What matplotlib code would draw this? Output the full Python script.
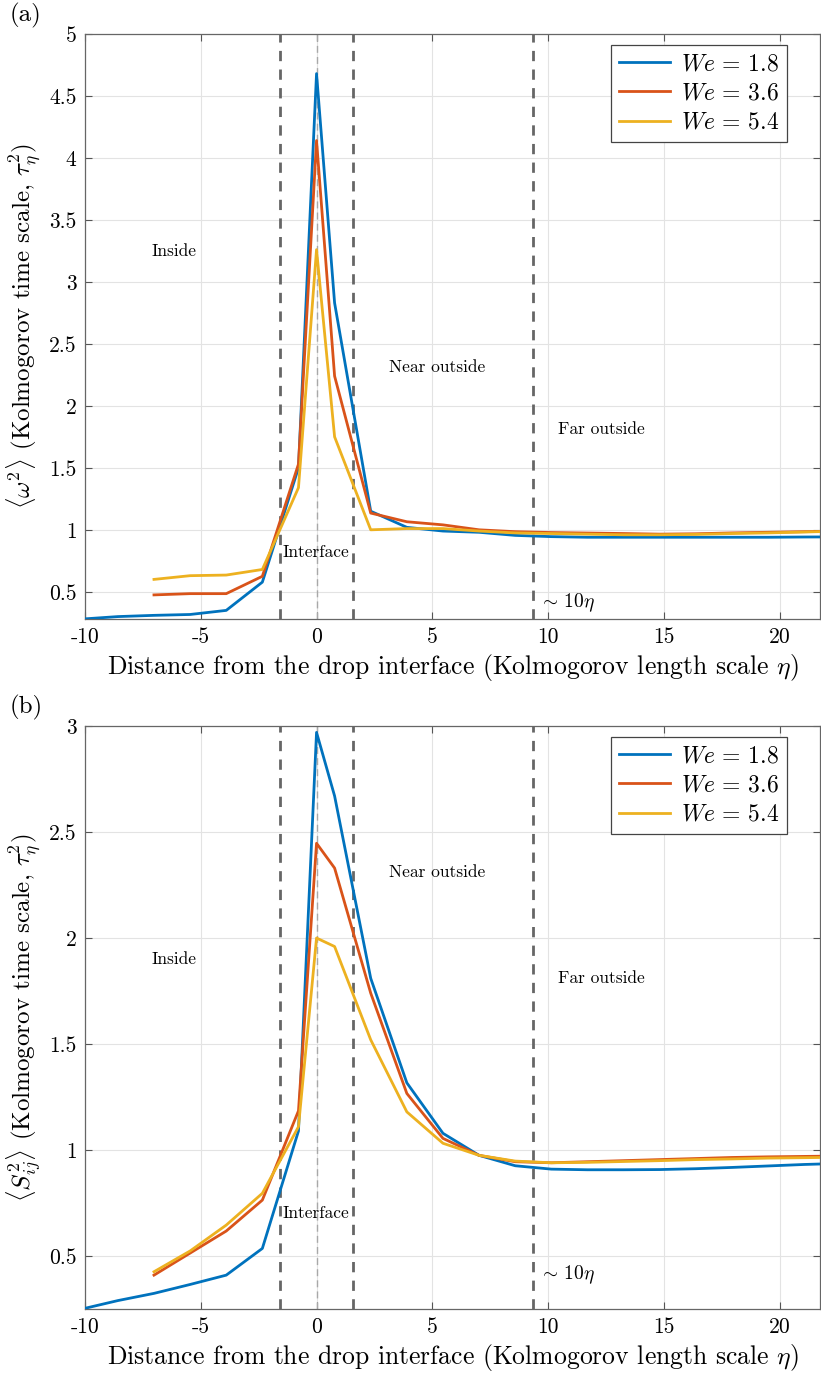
import numpy as np
import matplotlib
matplotlib.use("Agg")
import matplotlib.pyplot as plt
from matplotlib.ticker import FormatStrFormatter, MultipleLocator

plt.rcParams["font.family"] = "serif"
plt.rcParams["font.serif"] = ["cmr10"]
plt.rcParams["mathtext.fontset"] = "cm"
plt.rcParams["axes.unicode_minus"] = False
plt.rcParams["axes.formatter.use_mathtext"] = True

# ---- sample positions (in eta) ----
x_blue = [-10.14, -8.58, -7.02, -5.46, -3.90, -2.34, -0.78, 0.0, 0.78, 2.34, 3.90,
          5.46, 7.02, 8.58, 10.14, 11.70, 13.26, 14.82, 16.38, 17.94, 19.50, 21.06, 22.62]
x_rest = x_blue[2:]

labels = [r"$We\,=\,1.8$", r"$We\,=\,3.6$", r"$We\,=\,5.4$"]
colors = ["#0072BD", "#D95319", "#EDB120"]

# ---- <omega^2> ----
w_18 = [0.28, 0.30, 0.31, 0.317, 0.35, 0.578, 1.50, 4.68, 2.83, 1.15, 1.02,
        0.99, 0.98, 0.955, 0.945, 0.94, 0.94, 0.94, 0.94, 0.94, 0.94, 0.942, 0.943]
w_36 = [0.475, 0.485, 0.485, 0.625, 1.53, 4.14, 2.24, 1.135, 1.065,
        1.04, 1.0, 0.985, 0.978, 0.974, 0.97, 0.965, 0.968, 0.975, 0.98, 0.985, 0.99]
w_54 = [0.60, 0.63, 0.635, 0.68, 1.34, 3.26, 1.75, 1.0, 1.01,
        1.01, 0.99, 0.975, 0.97, 0.965, 0.96, 0.96, 0.963, 0.97, 0.975, 0.982, 0.99]

# ---- <S_ij^2> ----
s_18 = [0.25, 0.29, 0.324, 0.366, 0.41, 0.536, 1.09, 2.97, 2.67, 1.81, 1.317,
        1.079, 0.975, 0.926, 0.91, 0.907, 0.907, 0.908, 0.912, 0.918, 0.925, 0.932, 0.937]
s_36 = [0.41, 0.514, 0.618, 0.764, 1.185, 2.447, 2.33, 1.74, 1.267,
        1.055, 0.975, 0.945, 0.94, 0.945, 0.95, 0.955, 0.96, 0.965, 0.968, 0.97, 0.972]
s_54 = [0.426, 0.524, 0.646, 0.796, 1.11, 2.0, 1.96, 1.52, 1.18,
        1.032, 0.975, 0.948, 0.94, 0.942, 0.946, 0.95, 0.955, 0.958, 0.962, 0.964, 0.966]

# region boundaries
x_interface = [-1.56, 1.56]
x_far = 9.36

panels = [
    dict(tag="(a)", data=[(x_blue, w_18), (x_rest, w_36), (x_rest, w_54)],
         ylim=(0.28, 5.0), ylab=r"$\langle\omega^2\rangle$ (Kolmogorov time scale, $\tau_\eta^2$)",
         inside_y=3.25, iface_y=0.82, rect=[0.1035, 0.5514, 0.8955, 0.424]),
    dict(tag="(b)", data=[(x_blue, s_18), (x_rest, s_36), (x_rest, s_54)],
         ylim=(0.25, 3.0), ylab=r"$\langle S_{ij}^2\rangle$ (Kolmogorov time scale, $\tau_\eta^2$)",
         inside_y=1.9, iface_y=0.70, rect=[0.1035, 0.0514, 0.8955, 0.4225]),
]

fig = plt.figure(figsize=(8.21, 13.8), dpi=100)
fig.patch.set_facecolor("white")

for p in panels:
    ax = fig.add_axes(p["rect"])
    for (xx, yy), c, lab in zip(p["data"], colors, labels):
        ax.plot(xx, yy, color=c, lw=2.0, label=lab, zorder=3)

    # region markers
    for xv in x_interface + [x_far]:
        ax.axvline(xv, color="#666666", lw=2.0, ls=(0, (3.7, 3.0)), zorder=2)
    ax.axvline(0, color="#a8a8a8", lw=1.0, ls=(0, (5, 3)), zorder=2)

    ax.set_xlim(-10, 21.75)
    ax.set_ylim(*p["ylim"])
    ax.xaxis.set_major_locator(MultipleLocator(5))
    ax.yaxis.set_major_locator(MultipleLocator(0.5))
    ax.yaxis.set_major_formatter(FormatStrFormatter("%g"))
    ax.xaxis.set_major_formatter(FormatStrFormatter("%g"))
    ax.grid(True, color="#e3e3e3", lw=0.8, zorder=0)
    ax.tick_params(direction="in", top=True, right=True, labelsize=15.5,
                   color="#555555", length=5, pad=6)
    for sp in ax.spines.values():
        sp.set_color("#666666")
        sp.set_linewidth(0.9)

    ax.set_xlabel(r"Distance from the drop interface (Kolmogorov length scale $\eta$)",
                  fontsize=18.5, labelpad=4)
    ax.set_ylabel(p["ylab"], fontsize=18, labelpad=4)

    ax.text(-7.13, p["inside_y"], "Inside", fontsize=12.5, va="center", ha="left")
    ax.text(-1.45, p["iface_y"], "Interface", fontsize=12.5, va="center", ha="left")
    ax.text(3.15, 2.31, "Near outside", fontsize=12.5, va="center", ha="left")
    ax.text(10.44, 1.81, "Far outside", fontsize=12.5, va="center", ha="left")
    ax.text(9.6, 0.41, r"$\sim\,10\eta$", fontsize=14, va="center", ha="left")

    leg = ax.legend(loc="upper right", bbox_to_anchor=(0.955, 0.981), fontsize=17,
                    frameon=True, fancybox=False, framealpha=1, borderaxespad=0,
                    handlelength=2.15, labelspacing=0.3, borderpad=0.35,
                    handletextpad=0.45)
    leg.get_frame().set_edgecolor("#444444")
    leg.get_frame().set_linewidth(0.9)

    fig.text(0.012, p["rect"][1] + p["rect"][3] + 0.0135, p["tag"], fontsize=18,
             ha="left", va="center")

fig.savefig("out.png", dpi=100, facecolor="white")
